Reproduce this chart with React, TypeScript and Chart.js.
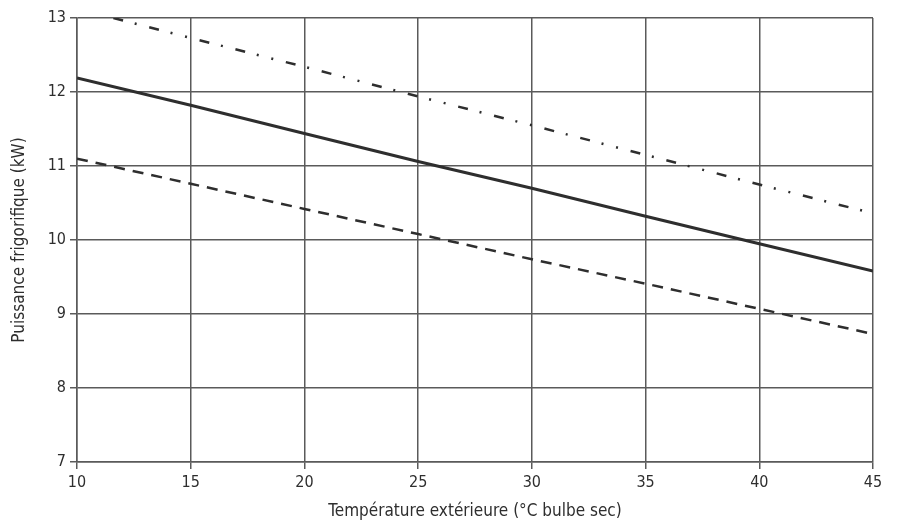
import React, { useEffect, useRef } from "react";
import { Chart, registerables } from "chart.js";

Chart.register(...registerables);

const xSolid = [10, 15, 20, 25, 30, 35, 40, 45];
const ySolid = [12.19, 11.82, 11.44, 11.06, 10.7, 10.32, 9.95, 9.58];

const xDashed = [10, 15, 20, 25, 30, 35, 40, 45];
const yDashed = [11.1, 10.76, 10.42, 10.08, 9.74, 9.41, 9.07, 8.73];

const xDashDot = [11.6, 15, 20, 25, 30, 35, 40, 45];
const yDashDot = [13.0, 12.73, 12.34, 11.94, 11.55, 11.15, 10.75, 10.36];

const xTitle = "Température extérieure (°C bulbe sec)";
const yTitle = "Puissance frigorifique (kW)";

const FONT = "'Liberation Sans Narrow', 'DejaVu Sans Condensed', 'Roboto Condensed', 'Noto Sans', sans-serif";
const INK = "#2e2e2e";
const GRID = "#5a5a5a";

const pts = (xs: number[], ys: number[]) => xs.map((x, i) => ({ x, y: ys[i] }));

export default function App() {
  const ref = useRef<HTMLCanvasElement | null>(null);

  useEffect(() => {
    document.body.style.margin = "0";
    const canvas = ref.current;
    if (!canvas) return;
    const chart = new Chart(canvas, {
      type: "line",
      data: {
        datasets: [
          {
            data: pts(xDashDot, yDashDot),
            borderColor: INK,
            borderWidth: 2.5,
            borderDash: [10, 12, 2, 13, 10, 12, 2, 13, 2, 13],
            pointRadius: 0,
            fill: false,
          },
          {
            data: pts(xSolid, ySolid),
            borderColor: INK,
            borderWidth: 3,
            pointRadius: 0,
            fill: false,
          },
          {
            data: pts(xDashed, yDashed),
            borderColor: INK,
            borderWidth: 2.5,
            borderDash: [11, 8],
            pointRadius: 0,
            fill: false,
          },
        ],
      },
      options: {
        animation: false,
        responsive: false,
        maintainAspectRatio: false,
        layout: { padding: { top: 18, right: 25, left: 9, bottom: 0 } },
        plugins: { legend: { display: false }, tooltip: { enabled: false } },
        scales: {
          x: {
            type: "linear",
            min: 10,
            max: 45,
            ticks: { stepSize: 5, color: INK, font: { family: FONT, size: 16 }, padding: 4, maxRotation: 0 },
            grid: { color: GRID, lineWidth: 1.5, tickLength: 7 },
            border: { color: GRID, width: 1.5 },
            title: { display: true, text: xTitle, color: INK, font: { family: FONT, size: 17 }, padding: { top: 2, bottom: 4 } },
            afterFit: (s: any) => { s.height = 64; },
          },
          y: {
            type: "linear",
            min: 7,
            max: 13,
            ticks: { stepSize: 1, color: INK, font: { family: FONT, size: 16 }, padding: 4 },
            grid: { color: GRID, lineWidth: 1.5, tickLength: 7 },
            border: { color: GRID, width: 1.5 },
            title: { display: true, text: yTitle, color: INK, font: { family: FONT, size: 17 }, padding: { top: 0, bottom: 8 } },
            afterFit: (s: any) => { s.width = 68; },
          },
        },
      },
    });
    return () => chart.destroy();
  }, []);

  return (
    <div style={{ width: 898, height: 526, background: "#fff" }}>
      <canvas ref={ref} width={898} height={526} />
    </div>
  );
}
